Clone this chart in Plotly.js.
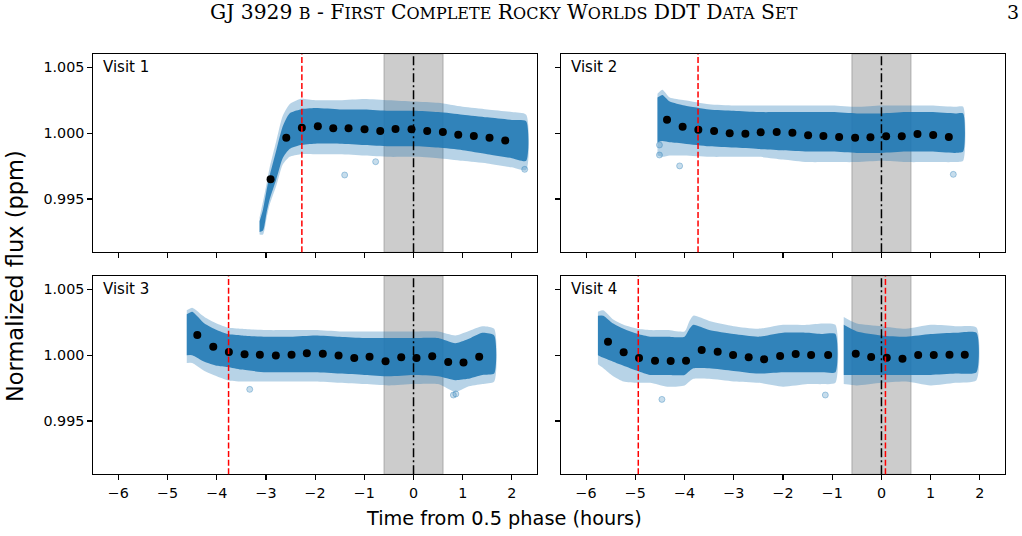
<!DOCTYPE html>
<html>
<head>
<meta charset="utf-8">
<script src="https://cdn.plot.ly/plotly-3.0.1.min.js"></script>
<style>html,body{margin:0;padding:0;background:#fff;}#chart{width:1022px;height:536px;}</style>
</head>
<body>
<div id="chart"></div>
<script>
// ---------------- DATA ----------------
const headerText = "GJ 3929 b - First Complete Rocky Worlds DDT Data Set";
const pageNumber = "3";
const visitLabels = ["Visit 1", "Visit 2", "Visit 3", "Visit 4"];
const xTitle = "Time from 0.5 phase (hours)";
const yTitle = "Normalized flux (ppm)";
const xTickVals = [-6, -5, -4, -3, -2, -1, 0, 1, 2];
const xTickText = ["\u22126", "\u22125", "\u22124", "\u22123", "\u22122", "\u22121", "0", "1", "2"];
const yTickVals = [0.995, 1.000, 1.005];
const yTickText = ["0.995", "1.000", "1.005"];
const eclipseWindow = [-0.6, 0.6];
const eclipseCenter = 0;

// Visit 1
const v1BinT = [-2.906,-2.587,-2.270,-1.945,-1.632,-1.321,-0.996,-0.677,-0.366,-0.041,0.278,0.596,0.909,1.226,1.545,1.864];
const v1BinF = [0.99649,0.99965,1.00041,1.00052,1.00037,1.00037,1.00029,1.00016,1.00031,1.00029,1.00016,1.00009,0.99988,0.99978,0.99965,0.99945];
const v1CloudT  = [-3.13,-3.06,-2.99,-2.93,-2.79,-2.66,-2.52,-2.3,-2.0,-1.5,-1.0,-0.5,0.0,0.5,1.0,1.5,2.0,2.29];
const v1OutHi   = [0.9936,0.9948,0.9961,0.9973,0.9994,1.0013,1.0022,1.0026,1.0025,1.0025,1.0026,1.0025,1.0024,1.0023,1.0020,1.0018,1.0016,1.0014];
const v1OutLo   = [0.9923,0.9923,0.9935,0.9945,0.9960,0.9976,0.9982,0.9984,0.9984,0.9984,0.9983,0.9982,0.9982,0.9981,0.9979,0.9977,0.9974,0.9972];
const v1CoreHi  = [0.9933,0.9942,0.9956,0.9967,0.9987,1.0005,1.0015,1.0018,1.0019,1.0018,1.0018,1.0017,1.0017,1.0016,1.0014,1.0012,1.0010,1.0009];
const v1CoreLo  = [0.9925,0.9926,0.9939,0.9949,0.9965,0.9981,0.9988,0.9991,0.9992,0.9992,0.9991,0.9990,0.9990,0.9989,0.9987,0.9984,0.9981,0.9979];
const v1OutlierT = [-1.40, -0.77, 2.26];
const v1OutlierF = [0.99682, 0.99783, 0.99725];
const v1RedLines = [-2.27];

// Visit 2
const v2BinT = [-4.356,-4.039,-3.720,-3.400,-3.083,-2.764,-2.453,-2.128,-1.809,-1.490,-1.179,-0.860,-0.535,-0.224,0.095,0.413,0.732,1.051,1.369];
const v2BinF = [1.00102,1.00049,1.00026,1.00016,0.99999,0.99996,1.00006,1.00009,1.00003,0.99984,0.99978,0.99971,0.99965,0.99968,0.99976,0.99976,0.99994,0.99986,0.99971];
const v2CloudT  = [-4.55,-4.45,-4.3,-4.0,-3.5,-3.0,-2.5,-2.0,-1.5,-1.0,-0.5,0.0,0.5,1.0,1.5,1.66];
const v2OutHi   = [1.0030,1.0033,1.0027,1.0025,1.0022,1.0021,1.0021,1.0021,1.0021,1.0021,1.0020,1.0021,1.0021,1.0021,1.0020,1.0020];
const v2OutLo   = [0.9983,0.9982,0.9983,0.9983,0.9982,0.9982,0.9982,0.9980,0.9978,0.9978,0.9978,0.9979,0.9978,0.9978,0.9978,0.9979];
const v2CoreHi  = [1.0027,1.0029,1.0024,1.0021,1.0018,1.0017,1.0016,1.0016,1.0016,1.0016,1.0015,1.0015,1.0016,1.0016,1.0015,1.0015];
const v2CoreLo  = [0.9993,0.9994,0.9993,0.9992,0.9990,0.9989,0.9988,0.9987,0.9986,0.9986,0.9985,0.9985,0.9986,0.9986,0.9985,0.9986];
const v2OutlierT = [-4.51, -4.51, -4.10, 1.46];
const v2OutlierF = [0.99910, 0.99834, 0.99751, 0.99687];
const v2RedLines = [-3.726];

// Visit 3
const v3BinT = [-4.396,-4.071,-3.754,-3.435,-3.124,-2.799,-2.480,-2.169,-1.844,-1.524,-1.205,-0.894,-0.569,-0.250,0.061,0.380,0.705,1.016,1.335];
const v3BinF = [1.00153,1.00064,1.00024,1.00006,1.00003,0.99998,1.00003,1.00014,1.00011,0.99998,0.99978,0.99988,0.99953,0.99983,0.99978,0.99991,0.99948,0.99945,0.99988];
const v3CloudT  = [-4.61,-4.5,-4.25,-4.0,-3.78,-3.5,-3.0,-2.5,-2.0,-1.5,-1.0,-0.5,0.0,0.5,0.85,1.1,1.4,1.64];
const v3OutHi   = [1.0034,1.0036,1.0029,1.0024,1.0021,1.0020,1.0019,1.0019,1.0019,1.0018,1.0018,1.0018,1.0018,1.0018,1.0015,1.0018,1.0022,1.0020];
const v3OutLo   = [0.9994,0.9994,0.9988,0.9984,0.9981,0.9980,0.9980,0.9980,0.9980,0.9979,0.9978,0.9977,0.9978,0.9978,0.9972,0.9976,0.9978,0.9980];
const v3CoreHi  = [1.0031,1.0033,1.0024,1.0019,1.0016,1.0015,1.0014,1.0014,1.0015,1.0014,1.0013,1.0013,1.0013,1.0013,1.0009,1.0012,1.0017,1.0015];
const v3CoreLo  = [1.0000,1.0000,0.9995,0.9992,0.9991,0.9989,0.9987,0.9987,0.9987,0.9986,0.9985,0.9984,0.9985,0.9984,0.9981,0.9982,0.9985,0.9986];
const v3OutlierT = [-3.33, 0.81, 0.86];
const v3OutlierF = [0.99740, 0.99697, 0.99705];
const v3RedLines = [-3.76];

// Visit 4 (two segments, gap near -0.85 h)
const v4BinT = [-5.555,-5.237,-4.925,-4.600,-4.282,-3.970,-3.652,-3.327,-3.014,-2.697,-2.384,-2.059,-1.742,-1.429,-1.083,-0.522,-0.209,0.108,0.427,0.746,1.063,1.382,1.693];
const v4BinF = [1.00102,1.00021,0.99978,0.99957,0.99955,0.99957,1.00039,1.00026,1.00001,0.99983,0.99968,0.99993,1.00008,1.00001,1.00001,1.00011,0.99986,0.99980,0.99973,1.00001,1.00001,1.00003,1.00003];
const v4aCloudT = [-5.76,-5.65,-5.45,-5.24,-4.95,-4.7,-4.35,-4.0,-3.9,-3.82,-3.5,-3.0,-2.5,-2.0,-1.5,-1.2,-0.935];
const v4aOutHi  = [1.0033,1.0034,1.0027,1.0023,1.0020,1.0019,1.0019,1.0018,1.0026,1.0030,1.0026,1.0022,1.0020,1.0023,1.0023,1.0024,1.0023];
const v4aOutLo  = [0.9993,0.9990,0.9984,0.9980,0.9979,0.9979,0.9976,0.9977,0.9980,0.9982,0.9982,0.9980,0.9979,0.9976,0.9978,0.9978,0.9979];
const v4aCoreHi = [1.0030,1.0030,1.0024,1.0020,1.0016,1.0014,1.0014,1.0014,1.0020,1.0023,1.0019,1.0016,1.0014,1.0017,1.0017,1.0016,1.0016];
const v4aCoreLo = [1.0000,0.9998,0.9995,0.9992,0.9988,0.9985,0.9985,0.9985,0.9988,0.9990,0.9990,0.9988,0.9986,0.9987,0.9987,0.9987,0.9987];
const v4bCloudT = [-0.766,-0.5,0.0,0.5,1.0,1.5,1.93];
const v4bOutHi  = [1.0029,1.0024,1.0022,1.0020,1.0023,1.0022,1.0021];
const v4bOutLo  = [0.9978,0.9977,0.9979,0.9980,0.9977,0.9979,0.9981];
const v4bCoreHi = [1.0023,1.0018,1.0015,1.0014,1.0016,1.0017,1.0017];
const v4bCoreLo = [0.9985,0.9985,0.9985,0.9985,0.9985,0.9986,0.9987];
const v4OutlierT = [-4.46, -1.14];
const v4OutlierF = [0.99664, 0.99697];
const v4RedLines = [-4.94, 0.081];

// ---------------- BUILD ----------------
const C0 = "31,119,180";
const panels = [
  {ax: "", bins: [v1BinT, v1BinF], clouds: [[v1CloudT, v1OutHi, v1OutLo, v1CoreHi, v1CoreLo]], out: [v1OutlierT, v1OutlierF], red: v1RedLines},
  {ax: "2", bins: [v2BinT, v2BinF], clouds: [[v2CloudT, v2OutHi, v2OutLo, v2CoreHi, v2CoreLo]], out: [v2OutlierT, v2OutlierF], red: v2RedLines},
  {ax: "3", bins: [v3BinT, v3BinF], clouds: [[v3CloudT, v3OutHi, v3OutLo, v3CoreHi, v3CoreLo]], out: [v3OutlierT, v3OutlierF], red: v3RedLines},
  {ax: "4", bins: [v4BinT, v4BinF], clouds: [[v4aCloudT, v4aOutHi, v4aOutLo, v4aCoreHi, v4aCoreLo],[v4bCloudT, v4bOutHi, v4bOutLo, v4bCoreHi, v4bCoreLo]], out: [v4OutlierT, v4OutlierF], red: v4RedLines}
];

function poly(t, hi, lo) {
  return {x: t.concat(t.slice().reverse()), y: hi.concat(lo.slice().reverse())};
}

const traces = [];
const shapes = [];
panels.forEach((p, i) => {
  const xa = "x" + p.ax, ya = "y" + p.ax;
  p.clouds.forEach(c => {
    const o = poly(c[0], c[1], c[2]);
    traces.push({type: "scatter", mode: "lines", x: o.x, y: o.y, xaxis: xa, yaxis: ya, fill: "toself",
      fillcolor: "rgba(" + C0 + ",0.32)", line: {width: 0, shape: "spline", smoothing: 0.6}, hoverinfo: "skip", showlegend: false});
    const k = poly(c[0], c[3], c[4]);
    traces.push({type: "scatter", mode: "lines", x: k.x, y: k.y, xaxis: xa, yaxis: ya, fill: "toself",
      fillcolor: "rgba(" + C0 + ",0.88)", line: {width: 0, shape: "spline", smoothing: 0.6}, hoverinfo: "skip", showlegend: false});
  });
  traces.push({type: "scatter", mode: "markers", x: p.out[0], y: p.out[1], xaxis: xa, yaxis: ya,
    marker: {size: 6, color: "rgba(" + C0 + ",0.25)", line: {width: 1, color: "rgba(" + C0 + ",0.35)"}}, showlegend: false});
  traces.push({type: "scatter", mode: "markers", x: p.bins[0], y: p.bins[1], xaxis: xa, yaxis: ya,
    marker: {size: 8, color: "#000"}, showlegend: false});

  shapes.push({type: "rect", xref: xa, yref: ya + " domain", x0: eclipseWindow[0], x1: eclipseWindow[1], y0: 0, y1: 1,
    fillcolor: "rgba(128,128,128,0.4)", line: {color: "rgba(128,128,128,0.45)", width: 1.2}, layer: "below"});
  shapes.push({type: "line", xref: xa, yref: ya + " domain", x0: eclipseCenter, x1: eclipseCenter, y0: 0, y1: 1,
    line: {color: "#000", width: 1.5, dash: "9px,3px,2px,3px"}, layer: "above"});
  p.red.forEach(r => shapes.push({type: "line", xref: xa, yref: ya + " domain", x0: r, x1: r, y0: 0, y1: 1,
    line: {color: "#ff0000", width: 1.5, dash: "6px,2.6px"}, layer: "above"}));
});

const W = 1022, H = 536;
const colX = [[93.3, 537], [561, 1005]];
const rowY = [[54, 252.3], [276, 474.3]];
const tickFont = {family: "DejaVu Sans, sans-serif", size: 14.3, color: "#000"};

function xAxis(col, row, anchor) {
  return {domain: [colX[col][0] / W, colX[col][1] / W], anchor: anchor, range: [-6.51, 2.51],
    tickmode: "array", tickvals: xTickVals, ticktext: xTickText, showticklabels: row === 1,
    ticks: "outside", ticklen: 5, tickwidth: 1.1, tickcolor: "#000", tickfont: tickFont,
    showline: true, linecolor: "#000", linewidth: 1.1, mirror: true, showgrid: false, zeroline: false, fixedrange: true};
}
function yAxis(col, row, anchor) {
  return {domain: [1 - rowY[row][1] / H, 1 - rowY[row][0] / H], anchor: anchor, range: [0.99095, 1.00601],
    tickmode: "array", tickvals: yTickVals, ticktext: yTickText, showticklabels: col === 0,
    ticks: "outside", ticklen: 5, tickwidth: 1.1, tickcolor: "#000", tickfont: tickFont,
    showline: true, linecolor: "#000", linewidth: 1.1, mirror: true, showgrid: false, zeroline: false, fixedrange: true};
}

// small-caps rendering of the running header (lowercase -> smaller capitals)
const HEAD_SIZE = 20.3, SC_SIZE = 16;
function smallCaps(s) {
  let out = "", buf = "";
  const flush = () => { if (buf) { out += '<span style="font-size:' + SC_SIZE + 'px">' + buf + '</span>'; buf = ""; } };
  for (const ch of s) {
    if (ch >= "a" && ch <= "z") buf += ch.toUpperCase();
    else { flush(); out += ch; }
  }
  flush();
  return out;
}

const annotations = [];
const axesIds = ["", "2", "3", "4"];
visitLabels.forEach((lab, i) => {
  annotations.push({xref: "x" + axesIds[i] + " domain", yref: "y" + axesIds[i] + " domain", x: 0.017, y: 0.934,
    xanchor: "left", yanchor: "middle", text: lab, showarrow: false, font: {family: "DejaVu Sans, sans-serif", size: 15, color: "#000"}});
});
annotations.push({xref: "paper", yref: "paper", x: 504 / W, y: 1 - 12 / H, xanchor: "center", yanchor: "middle",
  text: smallCaps(headerText), showarrow: false, font: {family: "DejaVu Serif, serif", size: HEAD_SIZE, color: "#000"}});
annotations.push({xref: "paper", yref: "paper", x: 1013 / W, y: 1 - 12 / H, xanchor: "center", yanchor: "middle",
  text: pageNumber, showarrow: false, font: {family: "DejaVu Serif, serif", size: 19, color: "#000"}});
annotations.push({xref: "paper", yref: "paper", x: 503.7 / W, y: 1 - 518 / H, xanchor: "center", yanchor: "middle",
  text: xTitle, showarrow: false, font: {family: "DejaVu Sans, sans-serif", size: 19.3, color: "#000"}});
annotations.push({xref: "paper", yref: "paper", x: 15 / W, y: 1 - 276 / H, xanchor: "center", yanchor: "middle", textangle: -90,
  text: yTitle, showarrow: false, font: {family: "DejaVu Sans, sans-serif", size: 22.5, color: "#000"}});

const layout = {
  width: W, height: H, margin: {l: 0, r: 0, t: 0, b: 0}, paper_bgcolor: "#fff", plot_bgcolor: "#fff",
  showlegend: false,
  xaxis: xAxis(0, 0, "y"), yaxis: yAxis(0, 0, "x"),
  xaxis2: xAxis(1, 0, "y2"), yaxis2: yAxis(1, 0, "x2"),
  xaxis3: xAxis(0, 1, "y3"), yaxis3: yAxis(0, 1, "x3"),
  xaxis4: xAxis(1, 1, "y4"), yaxis4: yAxis(1, 1, "x4"),
  shapes: shapes, annotations: annotations
};

Plotly.newPlot("chart", traces, layout, {displayModeBar: false, staticPlot: true});
</script>
</body>
</html>
